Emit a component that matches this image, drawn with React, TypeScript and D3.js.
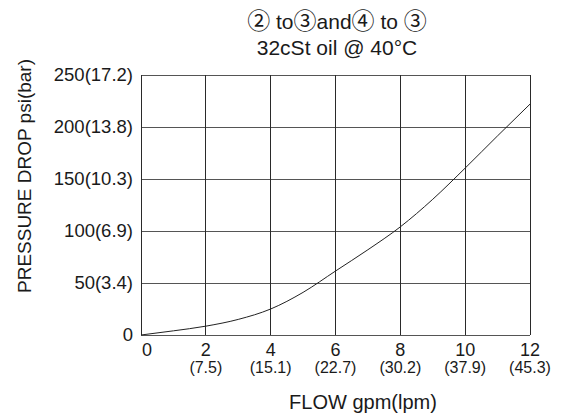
import React from 'react'
import * as d3 from 'd3'

const flowGpm = [0, 1, 2, 3, 4, 5, 6, 7, 8, 9, 10, 11, 12]
const dropPsi = [0, 4, 8.5, 15, 25, 41, 61.5, 82, 104, 130.5, 160.5, 191.5, 222]

const xTicks = [0, 2, 4, 6, 8, 10, 12]
const xSubLabels = ['', '(7.5)', '(15.1)', '(22.7)', '(30.2)', '(37.9)', '(45.3)']
const yTicks = [0, 50, 100, 150, 200, 250]
const yLabels = ['0', '50(3.4)', '100(6.9)', '150(10.3)', '200(13.8)', '250(17.2)']

const width = 562
const height = 417
const marginLeft = 141
const marginRight = 32
const marginTop = 75
const marginBottom = 82
const font = "'Liberation Sans', Arial, sans-serif"
const circled = "'Noto Sans CJK JP', 'DejaVu Sans', sans-serif"

export default function App(): JSX.Element {
  const x = d3.scaleLinear().domain([0, 12]).range([marginLeft, width - marginRight])
  const y = d3.scaleLinear().domain([0, 250]).range([height - marginBottom, marginTop])

  const points = flowGpm.map((f, i) => [f, dropPsi[i]] as [number, number])
  const line = d3
    .line<[number, number]>()
    .x(d => x(d[0]))
    .y(d => y(d[1]))
    .curve(d3.curveMonotoneX)

  const ink = '#1a1a1a'
  const cs = 23 // circled digit size

  return (
    <svg
      width={width}
      height={height}
      style={{ position: 'absolute', left: 0, top: 0, background: '#fff' }}
      fontFamily={font}
    >
      {/* title */}
      <text x={337} y={29} textAnchor="middle" fontSize={21} fill={ink}>
        <tspan fontFamily={circled} fontSize={cs}>②</tspan>{' to'}<tspan fontFamily={circled} fontSize={cs}>③</tspan>{'and'}<tspan fontFamily={circled} fontSize={cs}>④</tspan>{' to '}<tspan fontFamily={circled} fontSize={cs}>③</tspan>
      </text>
      <text x={337} y={55} textAnchor="middle" fontSize={21} fill={ink}>
        32cSt oil @ 40°C
      </text>

      {/* grid */}
      <g strokeWidth={1} shapeRendering="crispEdges">
        {yTicks.map(t => (
          <line key={'gy' + t} x1={x(0)} x2={x(12)} y1={y(t)} y2={y(t)} stroke="#555" />
        ))}
        {xTicks.map(t => (
          <line key={'gx' + t} x1={x(t)} x2={x(t)} y1={y(0)} y2={y(250)} stroke="#2a2a2a" />
        ))}
      </g>

      {/* curve */}
      <path d={line(points) ?? ''} fill="none" stroke="#222" strokeWidth={1} />

      {/* y tick labels */}
      {yTicks.map((t, i) => (
        <text
          key={'yl' + t}
          x={x(0) - 8}
          y={y(t)}
          dy="0.35em"
          textAnchor="end"
          fontSize={18.5}
          fill={ink}
        >
          {yLabels[i]}
        </text>
      ))}

      {/* x tick labels */}
      {xTicks.map((t, i) => (
        <g key={'xl' + t}>
          <text
            x={t === 0 ? x(t) + 6 : x(t)}
            y={356}
            textAnchor="middle"
            fontSize={18}
            fill={ink}
          >
            {t}
          </text>
          <text x={x(t)} y={373} textAnchor="middle" fontSize={16} fill={ink}>
            {xSubLabels[i]}
          </text>
        </g>
      ))}

      {/* axis titles */}
      <text x={363} y={409} textAnchor="middle" fontSize={20} fill={ink}>
        FLOW gpm(lpm)
      </text>
      <text
        transform={`translate(31,${(y(0) + y(250)) / 2 - 29}) rotate(-90)`}
        textAnchor="middle"
        fontSize={19}
        fill={ink}
      >
        PRESSURE DROP psi(bar)
      </text>
    </svg>
  )
}
